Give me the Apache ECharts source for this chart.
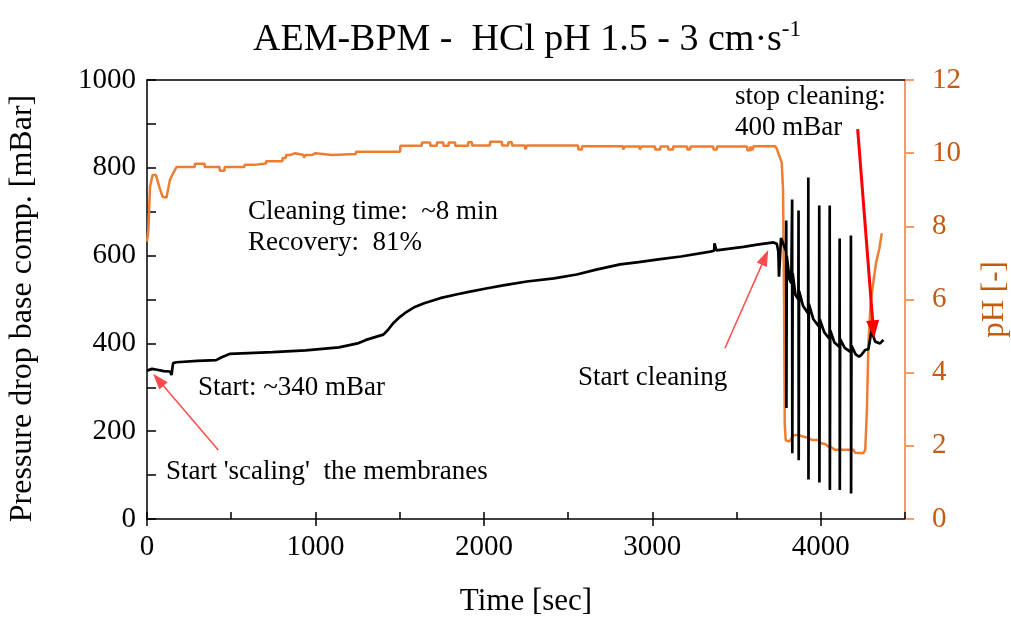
<!DOCTYPE html>
<html>
<head>
<meta charset="utf-8">
<script src="https://cdn.jsdelivr.net/npm/echarts@6/dist/echarts.min.js"></script>
<style>
html,body{margin:0;padding:0;background:#fff;overflow:hidden;}
#chart{width:1011px;height:617px;}
</style>
</head>
<body>
<div id="chart"></div>
<script>
// ---- data ----
const xTicks = [0, 1000, 2000, 3000, 4000];
const pressureTicks = [0, 200, 400, 600, 800, 1000];
const phTicks = [0, 2, 4, 6, 8, 10, 12];

// Pressure drop [mBar] vs time [sec]
const pressureData = [
  [0,338],[30,342],[60,340],[100,337],[136,336],[146,328],[150,342],[155,355],[175,357],[300,360],[411,362],
  [440,368],[490,376],[600,378],[745,380],[942,384],[1139,391],[1250,400],[1300,408],[1403,420],[1429,430],
  [1462,446],[1500,460],[1542,472],[1590,483],[1641,491],[1740,503],[1842,512],[1918,518],[2013,525],
  [2114,532],[2255,541],[2416,548],[2551,557],[2667,568],[2809,580],[2919,585],[3047,592],[3170,598],
  [3344,609],[3367,611],[3369,628],[3378,628],[3380,612],[3541,620],[3623,625],[3719,630],[3739,627],
  [3748,609],[3752,552],[3757,552],[3764,640],[3779,625],[3794,610],
  [3795,680],[3796,253],[3798,600],[3815,545],[3825,537],
  [3830,728],[3831,150],[3833,560],[3850,510],[3867,500],
  [3868,703],[3869,134],[3871,520],[3895,485],[3925,468],
  [3926,778],[3927,90],[3929,490],[3956,455],[3990,438],
  [3991,714],[3992,83],[3994,455],[4021,425],[4052,410],
  [4053,714],[4054,66],[4056,430],[4081,402],[4111,392],
  [4112,639],[4113,66],[4115,410],[4142,390],[4178,380],
  [4179,646],[4180,58],[4182,395],[4207,375],[4227,370],[4242,374],[4263,385],[4283,387],
  [4303,434],[4313,415],[4323,404],[4352,400],[4372,408]
];

// pH [-] vs time [sec]
const phData = [
  [0,7.58],[8,7.9],[18,9.08],[33,9.4],[53,9.4],[73,9.08],[92,8.81],[116,8.79],[136,9.27],[155,9.45],[175,9.62],
  [283,9.62],[284,9.71],[342,9.71],[343,9.62],[431,9.62],[432,9.52],[460,9.52],[461,9.62],[578,9.62],
  [579,9.68],[637,9.68],[638,9.72],[706,9.72],[707,9.78],[804,9.78],[805,9.87],[824,9.87],[825,9.95],
  [850,9.95],[851,10.0],[880,10.0],[881,9.95],[930,9.95],[931,9.88],[940,9.88],[941,9.95],[981,9.95],
  [982,10.0],[1000,10.0],[1001,9.95],[1099,9.95],[1100,9.98],[1240,9.98],[1241,10.04],[1305,10.04],
  [1306,10.0],[1315,10.0],[1316,10.04],[1503,10.04],[1504,10.2],[1631,10.2],[1632,10.29],[1681,10.29],
  [1682,10.2],[1720,10.2],[1721,10.29],[1759,10.29],[1760,10.2],[1790,10.2],[1791,10.29],[1829,10.29],
  [1830,10.2],[1906,10.2],[1907,10.3],[1929,10.3],[1930,10.21],[2036,10.21],[2037,10.31],[2107,10.31],
  [2108,10.21],[2144,10.21],[2145,10.3],[2166,10.3],[2167,10.21],[2245,10.21],[2246,10.1],[2255,10.1],
  [2256,10.21],[2560,10.21],[2561,10.1],[2582,10.1],[2583,10.19],[2826,10.19],[2827,10.1],[2836,10.1],
  [2837,10.18],[2924,10.18],[2925,10.1],[2934,10.1],[2935,10.18],[3016,10.18],[3017,10.1],[3047,10.1],
  [3048,10.18],[3094,10.18],[3095,10.1],[3123,10.1],[3124,10.18],[3207,10.18],[3208,10.1],[3225,10.1],
  [3226,10.18],[3362,10.18],[3363,10.1],[3383,10.1],[3384,10.18],[3563,10.18],[3564,10.08],[3581,10.08],
  [3582,10.18],[3593,10.18],[3594,10.08],[3599,10.08],[3600,10.19],[3729,10.19],[3739,10.12],[3748,10.0],
  [3768,9.75],[3776,9.0],[3782,6.0],[3786,2.6],[3792,2.15],[3803,2.1],[3815,2.12],[3825,2.2],[3838,2.28],
  [3855,2.3],[3877,2.28],[3900,2.25],[3925,2.22],[3946,2.16],[3986,2.16],[4001,2.07],[4026,2.05],
  [4045,1.98],[4066,1.95],[4085,1.89],[4194,1.89],[4204,1.81],[4253,1.8],[4264,1.89],[4274,3.0],
  [4283,4.8],[4296,5.9],[4313,6.5],[4328,7.0],[4348,7.4],[4362,7.81]
];

// annotation arrows (tail -> head), in data units of time / pressure
const arrowScaling = [[423,157],[67,317]];
const arrowCleaning = [[3431,389],[3669,596]];
const arrowStop = [[4219,888],[4312,432]];

// ---- chart ----
const FONT = '"Liberation Serif", "Times New Roman", serif';
const ORANGE = '#ED7D31';
const ORANGE_AXIS = '#F19C65';
const ORANGE_TEXT = '#C55A11';

const chart = echarts.init(document.getElementById('chart'), null, {renderer:'canvas', width:1011, height:617});

function arrow(pair, color, width, size) {
  return [
    {coord: pair[0], lineStyle:{color:color, width:width, type:'solid'}, symbol:'none'},
    {coord: pair[1], lineStyle:{color:color, width:width, type:'solid'}, symbol:'triangle', symbolSize:size}
  ];
}

const option = {
  animation: false,
  backgroundColor: '#fff',
  title: {
    text: '{a|AEM-BPM -  HCl pH 1.5 - 3 cm·s}{b|-1}',
    left: 248, top: 13,
    textStyle: {
      fontWeight: 'normal',
      rich: {
        a: {fontFamily: FONT, fontSize: 38, fontWeight:'normal', color:'#000', lineHeight: 44},
        b: {fontFamily: FONT, fontSize: 23, fontWeight:'normal', color:'#000', verticalAlign:'top', lineHeight: 44, padding:[0,0,15,0]}
      }
    }
  },
  grid: {left:147, top:80, width:758, height:439, containLabel:false, outerBoundsMode:'none'},
  xAxis: [
    {
      type:'value', min:0, max:4500, interval:1000, position:'bottom',
      axisLine:{show:true, onZero:false, lineStyle:{color:'#000', width:1.5}},
      axisTick:{show:true, inside:false, length:7, lineStyle:{color:'#000', width:1.5}},
      axisLabel:{show:true, margin:14, fontFamily:FONT, fontSize:29, color:'#000', showMaxLabel:false,
        formatter: v => xTicks.indexOf(v) >= 0 ? String(v) : ''},
      splitLine:{show:false},
      name:'Time [sec]', nameLocation:'middle', nameGap:67,
      nameTextStyle:{fontFamily:FONT, fontSize:31, color:'#000'}
    },
    {
      type:'value', min:0, max:4500, interval:500, position:'bottom',
      axisLine:{show:false, onZero:false},
      axisTick:{show:true, inside:true, length:7, lineStyle:{color:'#000', width:1.5}},
      axisLabel:{show:false}, splitLine:{show:false}
    },
    {
      type:'value', min:0, max:4500, position:'top',
      axisLine:{show:true, onZero:false, lineStyle:{color:'#000', width:1.5}},
      axisTick:{show:false}, axisLabel:{show:false}, splitLine:{show:false}
    }
  ],
  yAxis: [
    {
      type:'value', min:0, max:1000, interval:200, position:'left',
      axisLine:{show:true, onZero:false, lineStyle:{color:'#000', width:1.5}},
      axisTick:{show:true, inside:true, length:9, lineStyle:{color:'#000', width:1.5}},
      minorTick:{show:true, splitNumber:2, length:9, lineStyle:{color:'#000', width:1.5}},
      axisLabel:{margin:11, fontFamily:FONT, fontSize:29, color:'#000',
        formatter: v => pressureTicks.indexOf(v) >= 0 ? String(v) : ''},
      splitLine:{show:false}, minorSplitLine:{show:false},
      name:'Pressure drop base comp. [mBar]', nameLocation:'middle', nameGap:108, nameRotate:90,
      nameTextStyle:{fontFamily:FONT, fontSize:32, color:'#000', padding:[0,18,0,0]}
    },
    {
      type:'value', min:0, max:12, interval:2, position:'right',
      axisLine:{show:true, onZero:false, lineStyle:{color:ORANGE_AXIS, width:2}},
      axisTick:{show:true, inside:false, length:9, lineStyle:{color:ORANGE_AXIS, width:2}},
      axisLabel:{margin:27, fontFamily:FONT, fontSize:29, color:ORANGE_TEXT,
        formatter: v => phTicks.indexOf(v) >= 0 ? String(v) : ''},
      splitLine:{show:false},
      name:'pH [-]', nameLocation:'middle', nameGap:74, nameRotate:90,
      nameTextStyle:{fontFamily:FONT, fontSize:31, color:ORANGE_TEXT}
    }
  ],
  series: [
    {
      name:'pH', type:'line', xAxisIndex:0, yAxisIndex:1, data: phData,
      showSymbol:false, symbol:'none', lineStyle:{color:ORANGE, width:2.5}, z:2
    },
    {
      name:'Pressure', type:'line', xAxisIndex:0, yAxisIndex:0, data: pressureData,
      showSymbol:false, symbol:'none', lineStyle:{color:'#000', width:2.7}, z:3,
      markLine: {
        silent:true, animation:false, label:{show:false},
        data: [
          arrow(arrowScaling, '#FF4B4B', 1.5, [11,16]),
          arrow(arrowCleaning, '#FF4B4B', 1.5, [11,16]),
          arrow(arrowStop, '#FF0000', 3, [13,18])
        ]
      }
    }
  ],
  graphic: [
    {type:'text', style:{x:248, y:212, text:'Cleaning time:  ~8 min', font:'27px ' + FONT, fill:'#000', verticalAlign:'middle'}},
    {type:'text', style:{x:248, y:243, text:'Recovery:  81%', font:'27px ' + FONT, fill:'#000', verticalAlign:'middle'}},
    {type:'text', style:{x:198, y:388, text:'Start: ~340 mBar', font:'27px ' + FONT, fill:'#000', verticalAlign:'middle'}},
    {type:'text', style:{x:166, y:472, text:"Start 'scaling'  the membranes", font:'27px ' + FONT, fill:'#000', verticalAlign:'middle'}},
    {type:'text', style:{x:578, y:378, text:'Start cleaning', font:'27px ' + FONT, fill:'#000', verticalAlign:'middle'}},
    {type:'text', style:{x:735, y:97, text:'stop cleaning:', font:'27px ' + FONT, fill:'#000', verticalAlign:'middle'}},
    {type:'text', style:{x:735, y:128, text:'400 mBar', font:'27px ' + FONT, fill:'#000', verticalAlign:'middle'}}
  ]
};
chart.setOption(option);
</script>
</body>
</html>
